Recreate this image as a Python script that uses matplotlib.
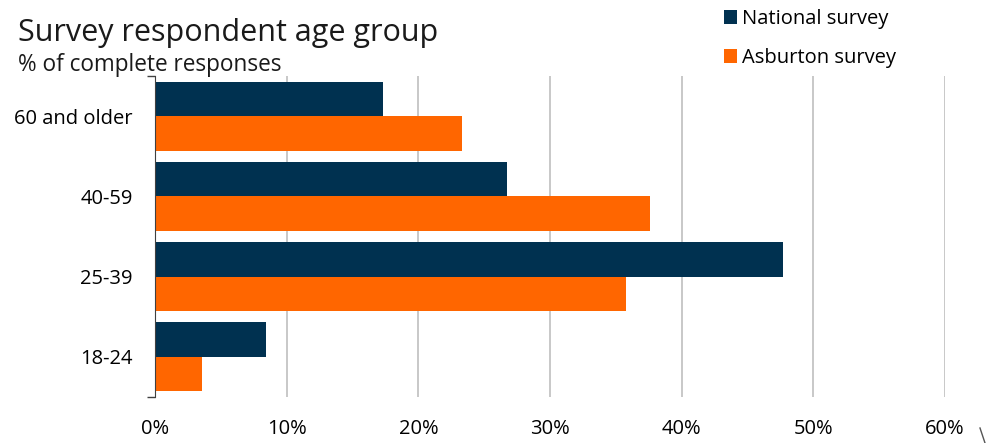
import matplotlib.pyplot as plt
import numpy as np
from matplotlib.patches import Patch
from matplotlib.lines import Line2D

plt.rcParams['font.family'] = ['Open Sans', 'DejaVu Sans']

# Age groups, top to bottom
age_groups = ["60 and older", "40-59", "25-39", "18-24"]
national = [17.3, 26.7, 47.7, 8.4]
asburton = [23.3, 37.6, 35.8, 3.6]
x_ticks = [0, 10, 20, 30, 40, 50, 60]

navy = "#003150"
orange = "#FF6600"

fig = plt.figure(figsize=(9.9, 4.43), dpi=100)
ax = fig.add_axes([155 / 990, 1 - 397 / 443, (945 - 155) / 990, (397 - 76) / 443])

pos = np.arange(len(age_groups))
h = 0.43
ax.barh(pos - h / 2, national, height=h, color=navy, zorder=3)
ax.barh(pos + h / 2, asburton, height=h, color=orange, zorder=3)

ax.set_ylim(len(age_groups) - 0.5, -0.5)
ax.set_xlim(0, 60)

ax.set_yticks(pos)
ax.set_yticklabels(age_groups, fontsize=14.5)
ax.tick_params(axis="y", length=0, pad=16)
# small tick marks at the ends of the category axis
ax.set_yticks([-0.5, len(age_groups) - 0.5], minor=True)
ax.tick_params(axis="y", which="minor", length=6, width=1, color="#404040")

ax.set_xticks(x_ticks)
ax.set_xticklabels([f"{t}%" for t in x_ticks], fontsize=14.5)
ax.tick_params(axis="x", length=0, pad=16)

ax.grid(axis="x", color="#BFBFBF", linewidth=1.2, zorder=0)
for side in ["top", "right", "bottom"]:
    ax.spines[side].set_visible(False)
ax.spines["left"].set_color("#404040")
ax.spines["left"].set_zorder(4)

fig.text(18 / 990, 1 - 41 / 443, "Survey respondent age group", fontsize=22, color="#1a1a1a")
fig.text(18 / 990, 1 - 71 / 443, "% of complete responses", fontsize=16.3, color="#1a1a1a")

handles = [Patch(facecolor=navy), Patch(facecolor=orange)]
fig.legend(handles, ["National survey", "Asburton survey"], loc="upper left",
           bbox_to_anchor=(716 / 990, 1 - 1 / 443), frameon=False, fontsize=14.5,
           handlelength=0.65, handleheight=0.65, handletextpad=0.25, labelspacing=0.95,
           borderaxespad=0)

# stray stroke at the bottom-right corner
fig.add_artist(Line2D([980 / 990, 985 / 990], [1 - 428 / 443, 1 - 443 / 443],
                      transform=fig.transFigure, color="#555555", linewidth=1))

fig.savefig("out.png", dpi=100)
